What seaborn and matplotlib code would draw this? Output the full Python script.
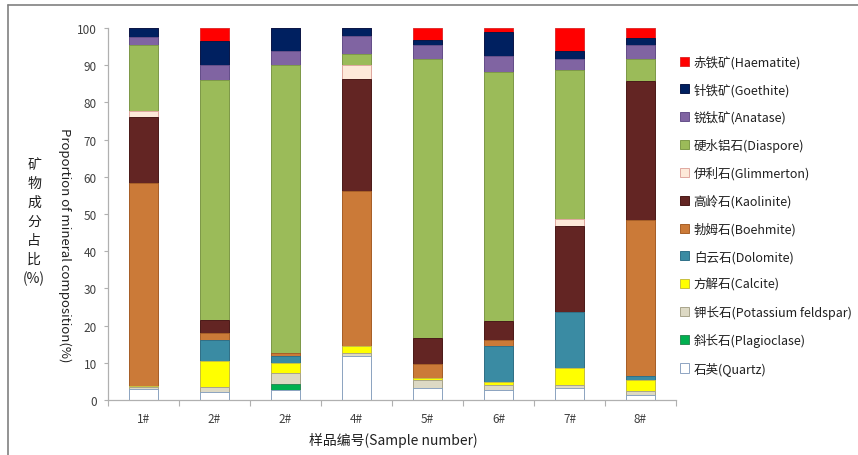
import matplotlib
matplotlib.use("Agg")
import matplotlib.pyplot as plt
from matplotlib.patches import Patch
from matplotlib.lines import Line2D
import numpy as np
import pandas as pd
import seaborn as sns

# Sample labels along the x axis (the third sample is also labelled 2#)
sample_labels = ["1#", "2#", "2#", "4#", "5#", "6#", "7#", "8#"]

# Mineral composition of each sample, % (bottom of the stack first)
quartz      = [3.0, 2.2, 2.6, 11.7, 3.3, 2.6, 3.2, 1.3]
plagioclase = [0.0, 0.0, 1.7, 0.0, 0.0, 0.0, 0.0, 0.0]
k_feldspar  = [0.5, 1.4, 2.9, 0.9, 2.0, 1.5, 0.7, 1.2]
calcite     = [0.3, 6.8, 2.7, 2.0, 0.6, 0.8, 4.6, 2.9]
dolomite    = [0.0, 5.6, 2.0, 0.0, 0.0, 9.5, 15.2, 1.1]
boehmite    = [54.5, 2.0, 0.7, 41.7, 3.7, 1.8, 0.0, 41.8]
kaolinite   = [17.7, 3.5, 0.0, 30.0, 7.2, 5.1, 23.2, 37.4]
glimmerton  = [1.8, 0.0, 0.0, 3.8, 0.0, 0.0, 1.8, 0.0]
diaspore    = [17.5, 64.4, 77.5, 2.9, 74.9, 67.0, 40.0, 6.0]
anatase     = [2.4, 4.1, 3.6, 4.9, 3.7, 4.3, 3.1, 3.7]
goethite    = [2.3, 6.6, 6.3, 2.1, 1.5, 6.4, 1.9, 1.8]
haematite   = [0.0, 3.4, 0.0, 0.0, 3.1, 1.0, 6.3, 2.8]

mineral_names = [
    "石英(Quartz)", "斜长石(Plagioclase)", "钾长石(Potassium feldspar)",
    "方解石(Calcite)", "白云石(Dolomite)", "勃姆石(Boehmite)",
    "高岭石(Kaolinite)", "伊利石(Glimmerton)", "硬水铝石(Diaspore)",
    "锐钛矿(Anatase)", "针铁矿(Goethite)", "赤铁矿(Haematite)",
]
mineral_values = [quartz, plagioclase, k_feldspar, calcite, dolomite, boehmite,
                  kaolinite, glimmerton, diaspore, anatase, goethite, haematite]

fill_colors = ["#FFFFFF", "#00B050", "#DDD9C4", "#FFFF00", "#3A8BA3", "#CB7A38",
               "#632523", "#FDE9D9", "#9BBB59", "#8064A2", "#002060", "#FF0000"]
edge_colors = ["#8EA4C2", "#2E8B57", "#A8A48C", "#C8C040", "#2F7088", "#A86028",
               "#4A1A18", "#E0A8A0", "#7E9A48", "#66508A", "#0A1848", "#E03030"]

# Long table: one row per sample and mineral, with the running stack top
rows = []
for name, vals in zip(mineral_names, mineral_values):
    for i, v in enumerate(vals):
        rows.append({"pos": i, "mineral": name, "value": v})
df = pd.DataFrame(rows)
df["mineral"] = pd.Categorical(df["mineral"], categories=mineral_names, ordered=True)
df = df.sort_values(["pos", "mineral"])
df["top"] = df.groupby("pos")["value"].cumsum()

sns.set_theme(style="white")
plt.rcParams["font.family"] = ["Noto Sans CJK SC", "DejaVu Sans"]
plt.rcParams["axes.unicode_minus"] = False

fig = plt.figure(figsize=(8.58, 4.56), dpi=100)
ax = fig.add_axes([108 / 858, 1 - 401 / 456, (676 - 108) / 858, (401 - 29) / 456])

# Stacked bars: draw the tallest cumulative layer first, lower layers on top
for name, fc, ec in reversed(list(zip(mineral_names, fill_colors, edge_colors))):
    sub = df[df["mineral"] == name]
    sns.barplot(data=sub, x="pos", y="top", order=list(range(len(sample_labels))),
                color=fc, saturation=1, width=0.4, errorbar=None,
                edgecolor=ec, linewidth=0.7, ax=ax)

ax.set_ylim(0, 100)
ax.set_xlim(-0.5, len(sample_labels) - 0.5)
ax.set_yticks(np.arange(0, 101, 10))
ax.set_xticks(range(len(sample_labels)))
ax.set_xticklabels(sample_labels)
ax.set_xticks(np.arange(-0.5, len(sample_labels), 1), minor=True)
ax.set_xlabel("")
ax.set_ylabel("")

grey = "#B0B0B0"
for side in ["top", "right"]:
    ax.spines[side].set_visible(False)
for side in ["left", "bottom"]:
    ax.spines[side].set_color(grey)
    ax.spines[side].set_linewidth(0.9)

ax.tick_params(axis="y", which="major", left=True, length=3, width=0.8, color=grey,
               pad=5, labelsize=8.5, labelcolor="#404040")
ax.tick_params(axis="x", which="major", bottom=False, length=0, pad=9,
               labelsize=8.5, labelcolor="#404040")
ax.tick_params(axis="x", which="minor", bottom=True, length=4, width=0.8, color=grey)

# Axis titles
fig.text(393 / 858, 1 - 441 / 456, "样品编号(Sample number)", ha="center", va="center",
         fontsize=10, color="#202020")
fig.text(65 / 858, 1 - 245 / 456, "Proportion of mineral composition(%)", rotation=270,
         ha="center", va="center", fontsize=9.5, color="#202020")
fig.text(34 / 858, 1 - 222 / 456, "矿\n物\n成\n分\n占\n比\n(%)", ha="center", va="center",
         fontsize=10, color="#202020", linespacing=1.45)

# Legend, top entry = top of the stack
handles = [Patch(facecolor=fc, edgecolor=ec, linewidth=0.7, label=name)
           for name, fc, ec in zip(mineral_names, fill_colors, edge_colors)][::-1]
fig.legend(handles=handles, loc="upper left", bbox_to_anchor=(680 / 858, 1 - 56 / 456),
           frameon=False, fontsize=9, handlelength=0.75, handleheight=0.75,
           handletextpad=0.35, labelspacing=1.14, borderpad=0, borderaxespad=0,
           labelcolor="#202020")

# Outer frame lines (top and left)
fig.add_artist(Line2D([8 / 858, 1], [1 - 6 / 456, 1 - 6 / 456], transform=fig.transFigure,
                      color="#808080", linewidth=1.2))
fig.add_artist(Line2D([8 / 858, 8 / 858], [0, 1 - 6 / 456], transform=fig.transFigure,
                      color="#808080", linewidth=1.2))

fig.savefig("out.png", dpi=100)
